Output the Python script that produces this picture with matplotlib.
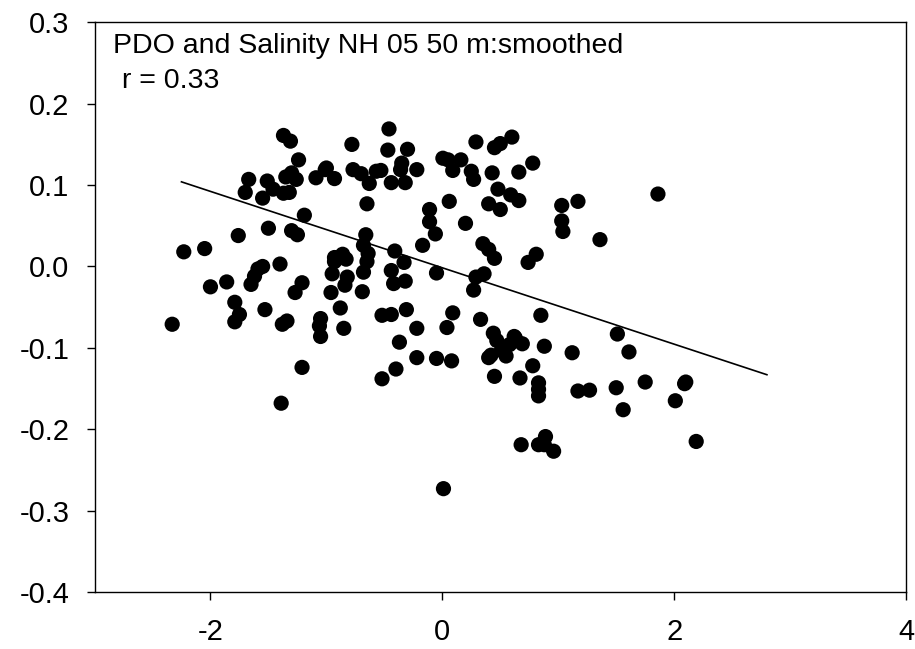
import matplotlib
matplotlib.use("Agg")
from matplotlib import pyplot as plt

plt.rcParams['font.family'] = ['Liberation Sans', 'DejaVu Sans']

# PDO index (x) and salinity anomaly (y)
pdo = [-2.33, -2.23, -2.05, -2.00, -1.86, -1.79, -1.79, -1.75, -1.76, -1.70,
       -1.67, -1.55, -1.51, -1.50, -1.53, -1.65, -1.62, -1.59, -1.55, -1.46,
       -1.40, -1.37, -1.31, -1.38, -1.34, -1.39, -1.37, -1.32, -1.35, -1.30,
       -1.26, -1.24, -1.30, -1.25, -1.27, -1.21, -1.19, -1.21, -1.09, -1.01,
       -0.93, -1.05, -1.06, -1.05, -0.96, -0.95, -0.93, -0.87, -0.83, -0.82,
       -0.84, -0.88, -0.85, -0.78, -0.77, -0.70, -0.63, -0.65, -0.66, -0.68,
       -0.64, -0.65, -0.68, -0.69, -0.57, -0.53, -0.46, -0.47, -0.44, -0.41,
       -0.44, -0.42, -0.52, -0.44, -0.52, -0.40, -0.37, -0.35, -0.30, -0.32,
       -0.36, -0.33, -0.32, -0.31, -0.22, -0.22, -0.22, -0.17, -0.11, -0.11,
       -0.06, -0.05, -0.05, 0.005, 0.05, 0.06, 0.01, 0.04, 0.09, 0.08,
       0.09, 0.16, 0.20, 0.25, 0.27, 0.29, 0.27, 0.29, 0.36, 0.33,
       0.35, 0.40, 0.45, 0.40, 0.43, 0.45, 0.50, 0.60, 0.48, 0.50,
       0.40, 0.44, 0.47, 0.51, 0.45, 0.55, 0.58, 0.63, 0.69, 0.59,
       0.66, 0.66, 0.67, 0.68, 0.74, 0.81, 0.78, 0.85, 0.78, 0.88,
       0.83, 0.83, 0.83, 0.83, 0.89, 0.88, 0.96, 1.03, 1.03, 1.04,
       1.12, 1.17, 1.17, 1.27, 1.36, 1.51, 1.50, 1.56, 1.61, 1.75,
       1.86, 2.01, 2.09, 2.10, 2.19, -0.93, -0.86, 0.42, 0.62, -1.00]
salinity = [-0.071, 0.018, 0.022, -0.025, -0.019, -0.044, -0.068, -0.059, 0.038, 0.091,
            0.107, 0.084, 0.105, 0.047, -0.053, -0.022, -0.012, -0.003, 0.000, 0.095,
            0.003, 0.161, 0.154, -0.071, -0.067, -0.168, 0.090, 0.091, 0.110, 0.115,
            0.107, 0.131, 0.044, 0.039, -0.032, -0.020, 0.063, -0.124, 0.109, 0.119,
            0.108, -0.064, -0.073, -0.086, -0.032, -0.009, 0.006, 0.012, 0.009, -0.013,
            -0.023, -0.051, -0.076, 0.150, 0.119, 0.114, 0.102, 0.077, 0.039, 0.026,
            0.016, 0.006, -0.007, -0.031, 0.117, 0.118, 0.169, 0.143, 0.103, 0.019,
            -0.005, -0.021, -0.060, -0.059, -0.138, -0.126, -0.093, 0.127, 0.144, 0.103,
            0.119, 0.005, -0.018, -0.053, 0.119, -0.076, -0.112, 0.026, 0.070, 0.055,
            0.040, -0.008, -0.113, 0.133, 0.131, 0.080, -0.273, -0.075, -0.057, -0.116,
            0.118, 0.131, 0.053, 0.117, 0.107, 0.153, -0.029, -0.013, -0.009, -0.065,
            0.028, 0.021, 0.010, 0.077, 0.115, 0.146, 0.151, 0.159, 0.095, 0.070,
            -0.112, -0.082, -0.091, -0.103, -0.135, -0.110, -0.096, -0.088, -0.095, 0.088,
            0.081, 0.116, -0.137, -0.219, 0.005, 0.015, 0.127, -0.060, -0.122, -0.098,
            -0.143, -0.151, -0.159, -0.219, -0.209, -0.219, -0.227, 0.075, 0.056, 0.043,
            -0.106, 0.080, -0.153, -0.152, 0.033, -0.083, -0.149, -0.176, -0.105, -0.142,
            0.089, -0.165, -0.144, -0.142, -0.215, 0.011, 0.015, -0.109, -0.086, 0.121]

# regression line end points as drawn
fit_x = [-2.25, 2.80]
fit_y = [0.104, -0.133]

fig = plt.figure(figsize=(9.15, 6.49), dpi=100)
ax = fig.add_axes([0.1033, 0.0878, 0.8869, 0.8778])

ax.scatter(pdo, salinity, s=120, color='black', edgecolors='none', zorder=3)
ax.plot(fit_x, fit_y, color='black', linewidth=1.2)

ax.set_xlim(-3, 4)
ax.set_ylim(-0.4, 0.3)
ax.set_xticks([-2, 0, 2, 4])
ax.set_yticks([-0.4, -0.3, -0.2, -0.1, 0.0, 0.1, 0.2, 0.3])
ax.set_yticklabels(['-0.4', '-0.3', '-0.2', '-0.1', '0.0', '0.1', '0.2', '0.3'])
ax.set_xticklabels(['-2', '0', '2', '4'])
ax.tick_params(direction='out', length=6, width=1, labelsize=21)
ax.tick_params(axis='x', pad=13)
ax.tick_params(axis='y', pad=12)
for sp in ax.spines.values():
    sp.set_linewidth(1)

ax.text(0.023, 0.946, "PDO and Salinity NH 05 50 m:smoothed",
        transform=ax.transAxes, fontsize=20.5, va='baseline', ha='left')
ax.text(0.0335, 0.885, "r = 0.33",
        transform=ax.transAxes, fontsize=20.5, va='baseline', ha='left')

fig.savefig("out.png", dpi=100)
